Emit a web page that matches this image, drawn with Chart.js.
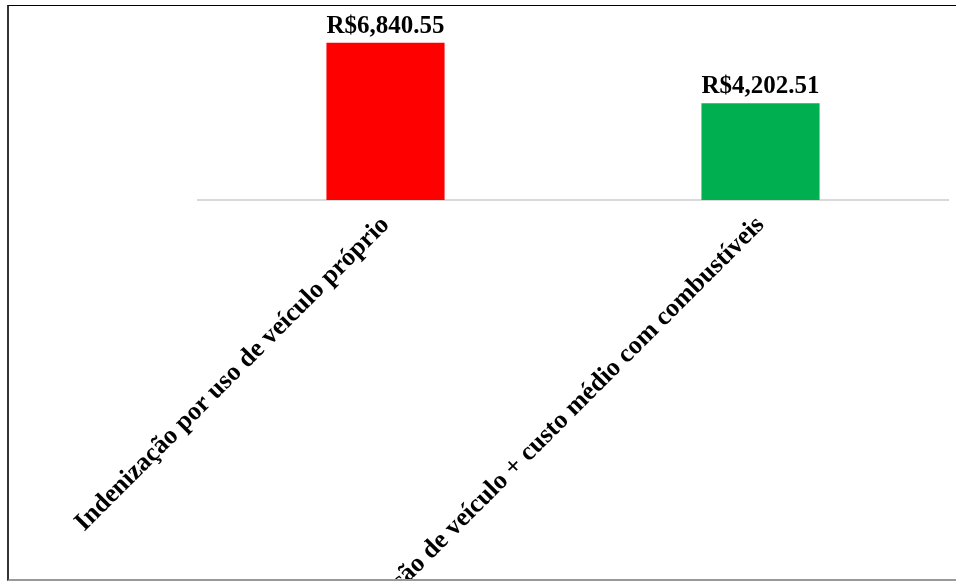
<!DOCTYPE html>
<html>
<head>
<meta charset="utf-8">
<script src="https://cdn.jsdelivr.net/npm/chart.js@4"></script>
<style>
  html, body { margin: 0; padding: 0; background: #fff; overflow: hidden; }
  #wrap { position: relative; width: 956px; height: 581px; }
  #frame {
    position: absolute; left: 7px; top: 5px; width: 960px; height: 573px;
    border-left: 2px solid #333; border-top: 1px solid #000; border-bottom: 2px solid #999;
    pointer-events: none;
  }
  canvas { position: absolute; left: 0; top: 0; }
</style>
</head>
<body>
<div id="wrap">
  <canvas id="chart" width="956" height="581"></canvas>
  <div id="frame"></div>
</div>
<script>
/* Custo: indenização x locação — bar chart */

const categories = [
  'Indenização por uso de veículo próprio',
  'Locação de veículo + custo médio com combustíveis'
];
const values = [6840.55, 4202.51];
const barColors = ['#ff0000', '#00b050'];

const SERIF = "'Liberation Serif', 'Times New Roman', serif";

const fmt = v => 'R$' + v.toLocaleString('en-US', { minimumFractionDigits: 2, maximumFractionDigits: 2 });

const valueLabels = {
  id: 'valueLabels',
  afterDatasetsDraw(chart) {
    const ctx = chart.ctx;
    const meta = chart.getDatasetMeta(0);
    ctx.save();
    ctx.font = 'bold 25px ' + SERIF;
    ctx.fillStyle = '#000';
    ctx.textAlign = 'center';
    ctx.textBaseline = 'alphabetic';
    meta.data.forEach((bar, i) => {
      ctx.fillText(fmt(values[i]), bar.x, bar.y - 10);
    });
    ctx.restore();
  }
};

new Chart(document.getElementById('chart').getContext('2d'), {
  type: 'bar',
  data: {
    labels: categories,
    datasets: [{
      data: values,
      backgroundColor: barColors,
      borderWidth: 0,
      categoryPercentage: 1,
      barPercentage: 0.315
    }]
  },
  options: {
    responsive: false,
    animation: false,
    layout: { padding: { left: 198, right: 8, top: 16, bottom: 0 } },
    plugins: { legend: { display: false }, tooltip: { enabled: false } },
    scales: {
      x: {
        grid: { display: false, drawTicks: false },
        border: { display: true, color: '#d9d9d9', width: 2 },
        ticks: {
          color: '#000',
          font: { family: SERIF, size: 26, weight: 'bold' },
          minRotation: 45,
          maxRotation: 45,
          autoSkip: false,
          padding: 10
        },
        afterFit: scale => { scale.height = 381; }
      },
      y: {
        display: false,
        min: 0,
        max: 8000
      }
    }
  },
  plugins: [valueLabels]
});
</script>
</body>
</html>
